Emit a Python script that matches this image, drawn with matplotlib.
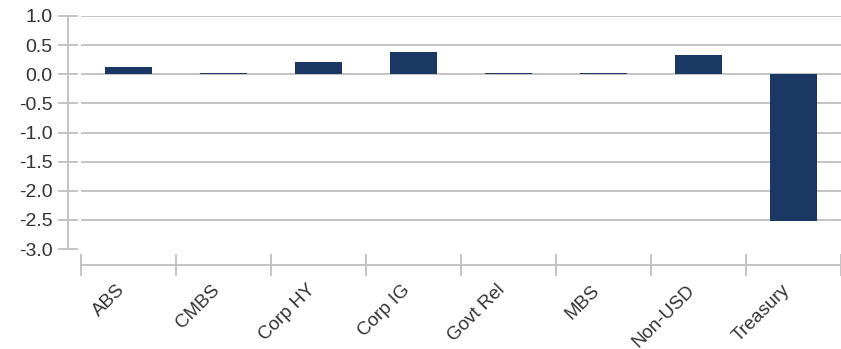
import matplotlib
matplotlib.use("Agg")
import matplotlib.pyplot as plt
import numpy as np

# Contribution by sector
sectors = ["ABS", "CMBS", "Corp HY", "Corp IG", "Govt Rel", "MBS", "Non-USD", "Treasury"]
values = [0.12, 0.015, 0.21, 0.38, 0.015, 0.03, 0.33, -2.52]
y_ticks = [1.0, 0.5, 0.0, -0.5, -1.0, -1.5, -2.0, -2.5, -3.0]

BAR = "#1b3764"
GRID = "#c4c4c4"
TEXT = "#333333"

plt.rcParams["font.family"] = ["Liberation Sans", "DejaVu Sans"]

fig = plt.figure(figsize=(8.41, 3.49), dpi=100)
ax = fig.add_axes([81 / 841, 1 - 249 / 349, 760 / 841, 233 / 349])

# spines first: moving them resets the tick objects
for side in ("top", "right"):
    ax.spines[side].set_visible(False)
ax.spines["left"].set_position(("outward", 9.4))
ax.spines["bottom"].set_position(("outward", 11.5))
for side in ("left", "bottom"):
    ax.spines[side].set_color(GRID)
    ax.spines[side].set_linewidth(1.4)

x = np.arange(len(sectors))
ax.bar(x, values, width=0.5, color=BAR, zorder=3)

ax.set_xlim(-0.5, len(sectors) - 0.5)
ax.set_ylim(-3.0, 1.0)

ax.set_yticks(y_ticks)
ax.set_yticklabels([f"{v:.1f}" for v in y_ticks])
ax.yaxis.grid(True, color=GRID, linewidth=1.4, zorder=0)
ax.get_ygridlines()[-1].set_visible(False)

# category labels at the centres, boundary ticks on the axis line
ax.set_xticks(x)
ax.set_xticks(np.arange(len(sectors) + 1) - 0.5, minor=True)
ax.tick_params(axis="x", which="major", length=0, pad=12, labelsize=13.5, labelcolor=TEXT)
ax.tick_params(axis="x", which="minor", length=15.8, direction="inout", width=1.4, color=GRID)
ax.tick_params(axis="y", length=15, direction="inout", width=1.4, color=GRID,
               pad=3.5, labelsize=14, labelcolor=TEXT)
ax.set_xticklabels(sectors, rotation=45, ha="right")

fig.savefig("out.png", dpi=100, facecolor="white")
